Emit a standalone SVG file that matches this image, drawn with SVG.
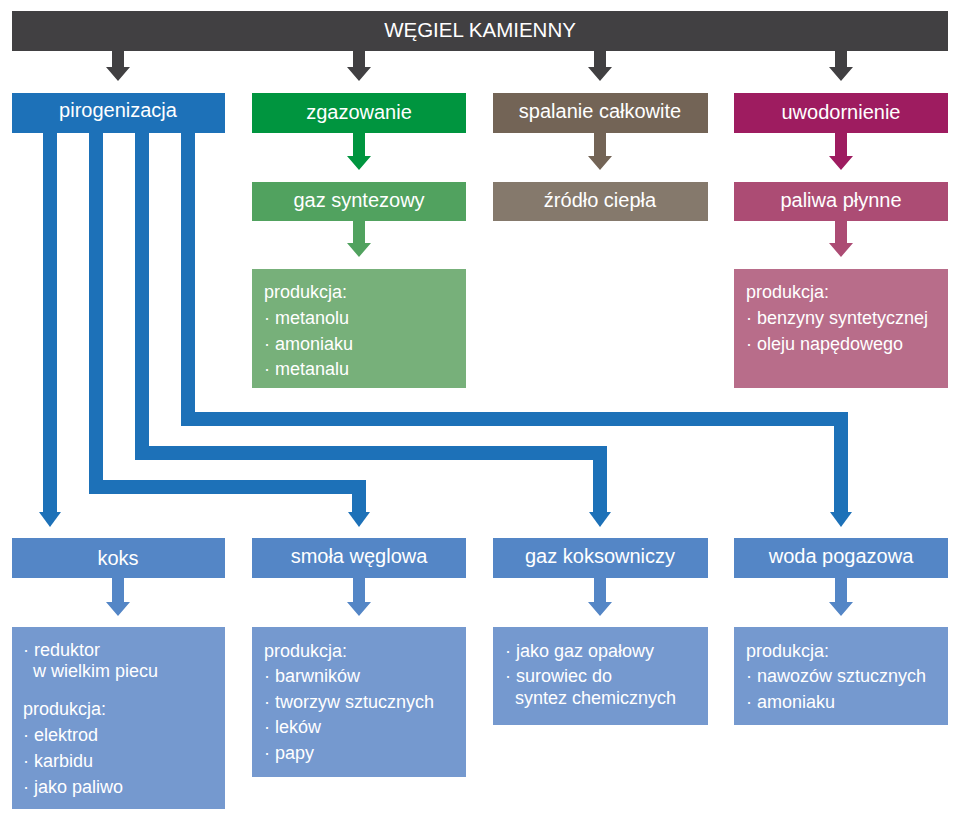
<svg xmlns="http://www.w3.org/2000/svg" width="960" height="821" viewBox="0 0 960 821">
<style>
text{font-family:"Liberation Sans",Arial,sans-serif;fill:#fff}
.t{font-size:20px;text-anchor:middle}
.b{font-size:18px}
.dark{fill:#414042}
.blue1{fill:#1d71b8}
.green1{fill:#00953f}
.brown1{fill:#736456}
.mag1{fill:#9e1c60}
.green2{fill:#51a25f}
.brown2{fill:#85796c}
.mag2{fill:#ac4c74}
.green3{fill:#77b07a}
.mag3{fill:#b86d8a}
.blue4{fill:#5486c6}
.blue5{fill:#7599cf}
.conn{fill:none;stroke:#1d71b8;stroke-width:14;stroke-linejoin:miter}
</style>
<rect width="960" height="821" fill="#fff"/>
<g id="connectors">
  <polygon class="dark" points="112,51 124,51 124,67 130,67 118,81 106,67 112,67"/>
  <polygon class="dark" points="353,51 365,51 365,67 371,67 359,81 347,67 353,67"/>
  <polygon class="dark" points="594,51 606,51 606,67 612,67 600,81 588,67 594,67"/>
  <polygon class="dark" points="835,51 847,51 847,67 853,67 841,81 829,67 835,67"/>
  <polygon class="green1" points="353,133 365,133 365,156 371,156 359,170 347,156 353,156"/>
  <polygon class="brown1" points="594,133 606,133 606,156 612,156 600,170 588,156 594,156"/>
  <polygon class="mag1" points="835,133 847,133 847,156 853,156 841,170 829,156 835,156"/>
  <polygon class="green2" points="353,221 365,221 365,243 371,243 359,257 347,243 353,243"/>
  <polygon class="mag2" points="835,221 847,221 847,243 853,243 841,257 829,243 835,243"/>
  <path class="conn" d="M50,132 V513"/>
  <path class="conn" d="M96,132 V487 H359 V513"/>
  <path class="conn" d="M142,132 V453 H600 V513"/>
  <path class="conn" d="M188,132 V419 H841 V513"/>
  <polygon class="blue1" points="39,512 61,512 50,527"/>
  <polygon class="blue1" points="348,512 370,512 359,527"/>
  <polygon class="blue1" points="589,512 611,512 600,527"/>
  <polygon class="blue1" points="830,512 852,512 841,527"/>
  <polygon class="blue4" points="112,578 124,578 124,602 130,602 118,616 106,602 112,602"/>
  <polygon class="blue4" points="353,578 365,578 365,602 371,602 359,616 347,602 353,602"/>
  <polygon class="blue4" points="594,578 606,578 606,602 612,602 600,616 588,602 594,602"/>
  <polygon class="blue4" points="835,578 847,578 847,602 853,602 841,616 829,602 835,602"/>
</g>
<g id="wegiel">
  <rect class="dark" x="12" y="11" width="936" height="40"/>
  <text x="480" y="37" style="font-size:20.5px;text-anchor:middle">WĘGIEL KAMIENNY</text>
</g>
<g id="pirogenizacja">
  <rect class="blue1" x="12" y="93" width="213" height="40"/>
  <text class="t" x="118" y="117">pirogenizacja</text>
</g>
<g id="zgazowanie">
  <rect class="green1" x="252" y="93" width="214" height="40"/>
  <text class="t" x="359" y="119">zgazowanie</text>
</g>
<g id="spalanie">
  <rect class="brown1" x="493" y="93" width="215" height="40"/>
  <text class="t" x="600" y="118">spalanie całkowite</text>
</g>
<g id="uwodornienie">
  <rect class="mag1" x="734" y="93" width="214" height="40"/>
  <text class="t" x="841" y="119">uwodornienie</text>
</g>
<g id="gaz-syntezowy">
  <rect class="green2" x="252" y="182" width="214" height="39"/>
  <text class="t" x="359" y="207">gaz syntezowy</text>
</g>
<g id="zrodlo-ciepla">
  <rect class="brown2" x="493" y="182" width="215" height="39"/>
  <text class="t" x="600" y="207">źródło ciepła</text>
</g>
<g id="paliwa-plynne">
  <rect class="mag2" x="734" y="182" width="214" height="39"/>
  <text class="t" x="841" y="207">paliwa płynne</text>
</g>
<g id="produkcja-gaz">
  <rect class="green3" x="252" y="269" width="214" height="119"/>
  <text class="b" x="264" y="298">produkcja:</text>
  <text class="b" x="264" y="324">· metanolu</text>
  <text class="b" x="264" y="350">· amoniaku</text>
  <text class="b" x="264" y="375">· metanalu</text>
</g>
<g id="produkcja-paliwa">
  <rect class="mag3" x="734" y="269" width="214" height="119"/>
  <text class="b" x="746" y="298">produkcja:</text>
  <text class="b" x="746" y="324">· benzyny syntetycznej</text>
  <text class="b" x="746" y="350">· oleju napędowego</text>
</g>
<g id="koks">
  <rect class="blue4" x="12" y="538" width="213" height="40"/>
  <text class="t" x="118" y="565">koks</text>
</g>
<g id="smola">
  <rect class="blue4" x="252" y="538" width="214" height="40"/>
  <text class="t" x="359" y="563">smoła węglowa</text>
</g>
<g id="gaz-koksowniczy">
  <rect class="blue4" x="493" y="538" width="215" height="40"/>
  <text class="t" x="600" y="563">gaz koksowniczy</text>
</g>
<g id="woda">
  <rect class="blue4" x="734" y="538" width="214" height="40"/>
  <text class="t" x="841" y="563">woda pogazowa</text>
</g>
<g id="koks-zastosowanie">
  <rect class="blue5" x="12" y="627" width="213" height="182"/>
  <text class="b" x="23" y="656">· reduktor</text>
  <text class="b" x="33" y="677">w wielkim piecu</text>
  <text class="b" x="23" y="715">produkcja:</text>
  <text class="b" x="23" y="741">· elektrod</text>
  <text class="b" x="23" y="767">· karbidu</text>
  <text class="b" x="23" y="793">· jako paliwo</text>
</g>
<g id="smola-zastosowanie">
  <rect class="blue5" x="252" y="627" width="214" height="150"/>
  <text class="b" x="264" y="657">produkcja:</text>
  <text class="b" x="264" y="682">· barwników</text>
  <text class="b" x="264" y="708">· tworzyw sztucznych</text>
  <text class="b" x="264" y="733">· leków</text>
  <text class="b" x="264" y="759">· papy</text>
</g>
<g id="gaz-zastosowanie">
  <rect class="blue5" x="493" y="627" width="215" height="98"/>
  <text class="b" x="505" y="657">· jako gaz opałowy</text>
  <text class="b" x="505" y="682">· surowiec do</text>
  <text class="b" x="515" y="704">syntez chemicznych</text>
</g>
<g id="woda-zastosowanie">
  <rect class="blue5" x="734" y="627" width="214" height="98"/>
  <text class="b" x="746" y="657">produkcja:</text>
  <text class="b" x="746" y="682">· nawozów sztucznych</text>
  <text class="b" x="746" y="708">· amoniaku</text>
</g>
</svg>
